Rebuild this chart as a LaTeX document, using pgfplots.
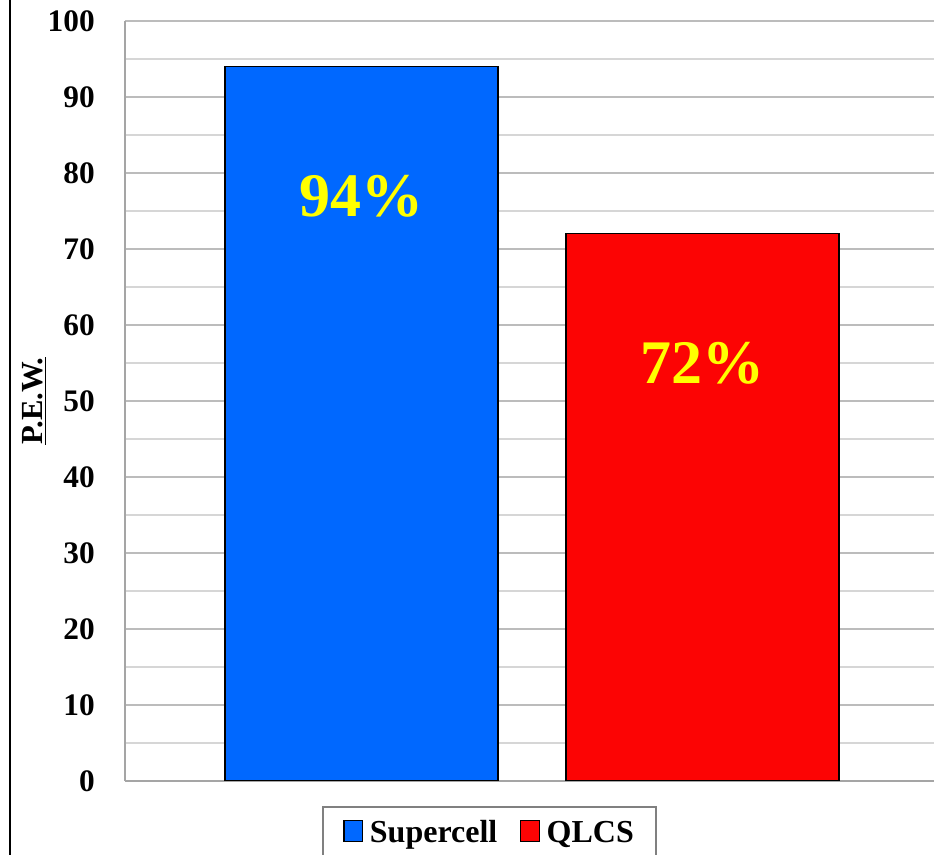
\documentclass[border=0pt]{standalone}
\usepackage{pgfplots}
\pgfplotsset{compat=1.18}
\usepackage{fontspec}
\setmainfont{Liberation Serif}
\definecolor{barblue}{RGB}{0,104,255}
\definecolor{barred}{RGB}{252,4,4}
\definecolor{gridmajor}{RGB}{188,188,188}
\definecolor{gridminor}{RGB}{214,214,214}
\definecolor{axisgray}{RGB}{165,165,165}
\definecolor{labelyellow}{RGB}{255,255,0}

\begin{document}
\begin{tikzpicture}
\useasboundingbox (0,0) rectangle (700.5pt,641.25pt);
\clip (0,0) rectangle (700.5pt,641.25pt);
% outer frame edge on the left
\draw[black, line width=1.6pt] (7.5pt,0) -- (7.5pt,641.25pt);
\begin{axis}[
  scale only axis,
  width=606.75pt, height=570pt,
  at={(93.75pt,55.5pt)}, anchor=south west,
  xmin=-0.6935, xmax=1.679,
  ymin=0, ymax=100,
  xtick=\empty,
  ytick={0,10,...,100},
  minor ytick={5,15,...,95},
  ymajorgrids, yminorgrids,
  major grid style={gridmajor, line width=1.5pt},
  minor grid style={gridminor, line width=1.5pt},
  axis x line*=bottom, axis y line*=left,
  axis line style={axisgray, line width=1.5pt, -},
  major tick length=0pt, minor tick length=0pt,
  /pgf/number format/assume math mode=true,
  yticklabel style={font=\fontsize{23.5}{27}\selectfont\bfseries, inner sep=0pt, xshift=-22.5pt},
  every axis y label/.style={at={(axis description cs:-0.1125,0.5)}, rotate=90, anchor=center},
  ylabel={\underline{P.E.W.}},
  ylabel style={font=\fontsize{23}{27}\selectfont\bfseries},
  ybar, bar width=0.8, bar shift=0pt,
  nodes near coords={\pgfmathprintnumber[fixed,precision=0]{\pgfplotspointmeta}\%},
  every node near coord/.append style={font=\fontsize{46.5}{52}\selectfont\bfseries, text=labelyellow, anchor=center, yshift=-97pt},
  legend columns=2,
  legend style={
    at={(axis description cs:0.451,-0.0329)}, anchor=north,
    draw=gray, line width=1.5pt,
    font=\fontsize{24}{27}\selectfont\bfseries,
    inner xsep=15pt, inner ysep=8pt,
    /tikz/every even column/.append style={column sep=15pt},
  },
  legend image code/.code={%
    \draw[#1, draw=black, line width=1pt] (0pt,-7pt) rectangle (14pt,9pt);
    \path (17pt,0pt);},
]
\addplot[fill=barblue, draw=black, line width=1pt] coordinates {(0,94)};
\addplot[fill=barred, draw=black, line width=1pt] coordinates {(1,72)};
\legend{Supercell, QLCS}
\end{axis}
\end{tikzpicture}
\end{document}
